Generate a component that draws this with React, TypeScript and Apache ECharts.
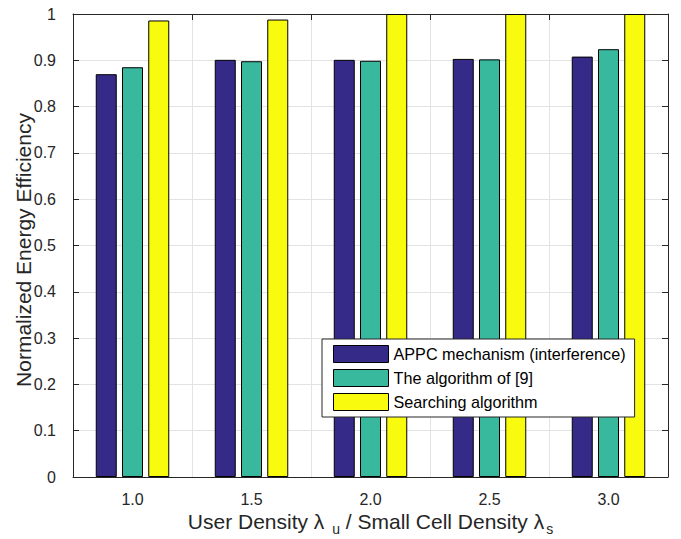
import React, { useEffect, useRef } from "react";
import * as echarts from "echarts";

const categories = ["1.0", "1.5", "2.0", "2.5", "3.0"];
const appcValues = [0.870, 0.901, 0.901, 0.903, 0.908];
const algo9Values = [0.885, 0.898, 0.899, 0.902, 0.924];
const searchValues = [0.986, 0.988, 1.0, 1.0, 1.0];
const seriesNames = [
  "APPC mechanism (interference)",
  "The algorithm of [9]",
  "Searching algorithm",
];
const seriesColors = ["#352a87", "#38b99e", "#f9fb0e"];

const FONT = "'Liberation Sans', Arial, Helvetica, sans-serif";
const AXIS_COLOR = "#262626";
const GRID_COLOR = "#e3e3e3";

export default function App() {
  const ref = useRef<HTMLDivElement>(null);
  useEffect(() => {
    if (!ref.current) return;
    const chart = echarts.init(ref.current, undefined, { renderer: "svg" });
    const values = [appcValues, algo9Values, searchValues];
    const series = values.map((v, i) => ({
      name: seriesNames[i],
      type: "bar",
      xAxisIndex: 0,
      yAxisIndex: 0,
      data: v,
      barWidth: 21,
      barGap: "25%",
      itemStyle: { color: seriesColors[i], borderColor: "#000", borderWidth: 1 },
    }));
    const line = { show: true, onZero: false, lineStyle: { color: AXIS_COLOR, width: 1 } };
    const tick = { show: true, inside: true, length: 6, lineStyle: { color: AXIS_COLOR } };
    chart.setOption({
      animation: false,
      textStyle: { fontFamily: FONT },
      grid: { left: 73, right: 13, top: 14, bottom: 62, containLabel: false, outerBoundsMode: "none" },
      legend: {
        orient: "vertical",
        left: 322,
        top: 339,
        padding: [6, 9, 6, 11],
        itemGap: 6,
        itemWidth: 55,
        itemHeight: 17,
        icon: "rect",
        backgroundColor: "#fff",
        borderColor: AXIS_COLOR,
        borderWidth: 1,
        borderRadius: 0,
        itemStyle: { borderColor: "#000", borderWidth: 1 },
        textStyle: { fontSize: 16.2, color: "#000", fontFamily: FONT },
        data: seriesNames,
      },
      xAxis: [
        {
          type: "category",
          position: "bottom",
          data: categories,
          boundaryGap: true,
          axisLine: line,
          axisTick: { ...tick, alignWithLabel: true },
          axisLabel: { fontSize: 16, color: AXIS_COLOR, margin: 14, fontFamily: FONT },
          splitLine: { show: false },
          name: "{t|User Density λ }{sub|u}{t| / Small Cell Density λ}{sub|s}",
          nameLocation: "middle",
          nameMoveOverlap: false,
          nameGap: 30,
          nameTextStyle: {
            fontFamily: FONT,
            color: AXIS_COLOR,
            rich: {
              t: { fontSize: 21, color: AXIS_COLOR, fontFamily: FONT },
              sub: { fontSize: 14, color: AXIS_COLOR, fontFamily: FONT, padding: [15, 0, 0, 2] },
            },
          },
        },
        {
          type: "value",
          position: "top",
          min: -1,
          max: 9,
          interval: 2,
          axisLine: line,
          axisTick: tick,
          axisLabel: { show: false },
          splitLine: { show: true, lineStyle: { color: GRID_COLOR, width: 1 } },
        },
      ],
      yAxis: [
        {
          type: "value",
          position: "left",
          min: 0,
          max: 1,
          interval: 0.1,
          axisLine: line,
          axisTick: tick,
          axisLabel: { fontSize: 16, color: AXIS_COLOR, margin: 17, fontFamily: FONT },
          splitLine: { show: true, lineStyle: { color: GRID_COLOR, width: 1 } },
          name: "Normalized Energy Efficiency",
          nameLocation: "middle",
          nameMoveOverlap: false,
          nameGap: 39,
          nameTextStyle: { fontSize: 21, color: AXIS_COLOR, fontFamily: FONT, padding: [0, 9, 0, 0] },
        },
        {
          type: "value",
          position: "right",
          min: 0,
          max: 1,
          interval: 0.1,
          axisLine: line,
          axisTick: tick,
          axisLabel: { show: false },
          splitLine: { show: false },
        },
      ],
      series,
    });
    return () => chart.dispose();
  }, []);
  return (
    <div
      ref={ref}
      style={{ position: "absolute", left: 0, top: 0, width: 681, height: 539, background: "#fff" }}
    />
  );
}
